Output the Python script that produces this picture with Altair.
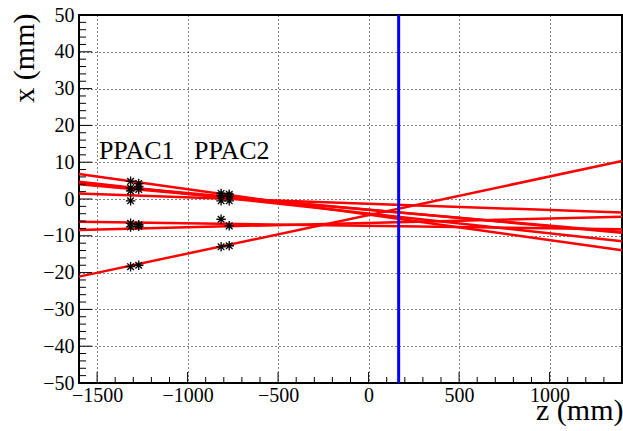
import altair as alt
import pandas as pd

# Track lines: x (mm) at z = -1600 and z = 1400
z_start = [-1600] * 8
z_end = [1400] * 8
x_start = [6.8, 4.7, 4.3, 4.0, 1.5, -6.2, -8.4, -21.1]
x_end = [-13.9, -11.5, -9.2, -9.0, -3.7, -8.2, -4.8, 10.3]

# PPAC hits (z, x)
hit_z = [-1315, -1315, -1315, -1315, -1315, -1315, -1315,
         -1270, -1270, -1270, -1270, -1270, -1270,
         -815, -815, -815, -815, -815,
         -770, -770, -770, -770, -770]
hit_x = [4.8, 3.0, 2.2, -0.5, -6.6, -7.6, -18.4,
         4.2, 3.4, 2.6, -7.0, -7.4, -18.0,
         1.5, 0.9, -0.5, -5.5, -13.0,
         1.3, 0.8, -0.5, -7.3, -12.7]

target_z = 166

label_text = ["PPAC1", "PPAC2"]
label_z = [-1490, -965]
label_x = [10.9, 10.9]

x_major = [-1500, -1000, -500, 0, 500, 1000]
x_minor = [v for v in range(-1600, 1401, 100) if v % 500 != 0]
y_major = list(range(-50, 51, 10))
y_minor = [v for v in range(-50, 51, 2) if v % 10 != 0]

W, H = 543, 368
FONT = "Liberation Serif"
AXFONT = "Times New Roman"

xs = alt.Scale(domain=[-1600, 1400], nice=False, zero=False)
ys = alt.Scale(domain=[-50, 50], nice=False, zero=False)

seg = pd.DataFrame({"z0": z_start, "z1": z_end, "x0": x_start, "x1": x_end,
                    "id": list(range(len(x_start)))})
hits = pd.DataFrame({"z": hit_z, "x": hit_x})
labels = pd.DataFrame({"t": label_text, "z": label_z, "x": label_x})

x_axis = alt.Axis(values=x_major, grid=True, gridDash=[1, 3], gridColor="black",
                  gridOpacity=1, gridWidth=1, ticks=False, domain=False,
                  labelFont=AXFONT, labelFontSize=20, labelColor="black",
                  labelOverlap=False, labelFlush=False,
                  labelPadding=2, labelExpr="replace(datum.label, '-', '\u2212')",
                  format="d",
                  title="z (mm)", titleFont=AXFONT, titleFontSize=30,
                  titleFontWeight="normal", titleColor="black",
                  titleAnchor="end", titleAlign="right", titleX=W + 1,
                  titleY=36, titleBaseline="alphabetic")
y_axis = alt.Axis(values=y_major, grid=True, gridDash=[1, 3], gridColor="black",
                  gridOpacity=1, gridWidth=1, ticks=False, domain=False,
                  labelFont=AXFONT, labelFontSize=20, labelColor="black",
                  labelOverlap=False, labelFlush=False,
                  labelPadding=5, labelExpr="replace(datum.label, '-', '\u2212')",
                  format="d",
                  title="x (mm)", titleFont=AXFONT, titleFontSize=30,
                  titleFontWeight="normal", titleColor="black",
                  titleAngle=270, titleAlign="right", titleX=-46, titleY=-2,
                  titleBaseline="alphabetic")


def X(field):
    return alt.X(field, scale=xs, axis=x_axis, title="z (mm)")


def Y(field):
    return alt.Y(field, scale=ys, axis=y_axis, title="x (mm)")


lines = alt.Chart(seg).mark_rule(color="#ff0000", strokeWidth=2.5).encode(
    x=X("z0:Q"), x2="z1:Q", y=Y("x0:Q"), y2="x1:Q")

target = alt.Chart(pd.DataFrame({"z": [target_z]})).mark_rule(
    color="#0000ff", strokeWidth=3).encode(x=X("z:Q"))

star = "M-1,0L1,0M0,-1L0,1M-0.7,-0.7L0.7,0.7M-0.7,0.7L0.7,-0.7"
pts = alt.Chart(hits).mark_point(shape=star, size=90, color="black",
                                 strokeWidth=1.3, filled=False, opacity=1).encode(
    x=X("z:Q"), y=Y("x:Q"))

txt = alt.Chart(labels).mark_text(font=FONT, fontSize=26, align="left",
                                  baseline="alphabetic", color="black").encode(
    x=X("z:Q"), y=Y("x:Q"), text="t:N")

xt_major = alt.Chart(pd.DataFrame({"v": x_major})).mark_rule(
    color="black", strokeWidth=1).encode(
    x=X("v:Q"), y=alt.value(H), y2=alt.value(H - 11))
xt_minor = alt.Chart(pd.DataFrame({"v": x_minor})).mark_rule(
    color="black", strokeWidth=1).encode(
    x=X("v:Q"), y=alt.value(H), y2=alt.value(H - 6))
yt_major = alt.Chart(pd.DataFrame({"v": y_major})).mark_rule(
    color="black", strokeWidth=1).encode(
    y=Y("v:Q"), x=alt.value(0), x2=alt.value(13))
yt_minor = alt.Chart(pd.DataFrame({"v": y_minor})).mark_rule(
    color="black", strokeWidth=1).encode(
    y=Y("v:Q"), x=alt.value(0), x2=alt.value(7))

chart = alt.layer(lines, target, pts, txt, xt_major, xt_minor, yt_major, yt_minor).properties(
    width=W, height=H,
    autosize=alt.AutoSizeParams(type="none"),
    padding={"left": 79, "top": 15, "right": 1, "bottom": 48},
    background="white",
).configure(font=FONT).configure_view(stroke="black", strokeWidth=2).configure_axis(
    labelFont=AXFONT, titleFont=AXFONT, labelFontWeight="normal", titleFontWeight="normal")

chart.save("out.html", embed_options={"renderer": "svg", "actions": False})
